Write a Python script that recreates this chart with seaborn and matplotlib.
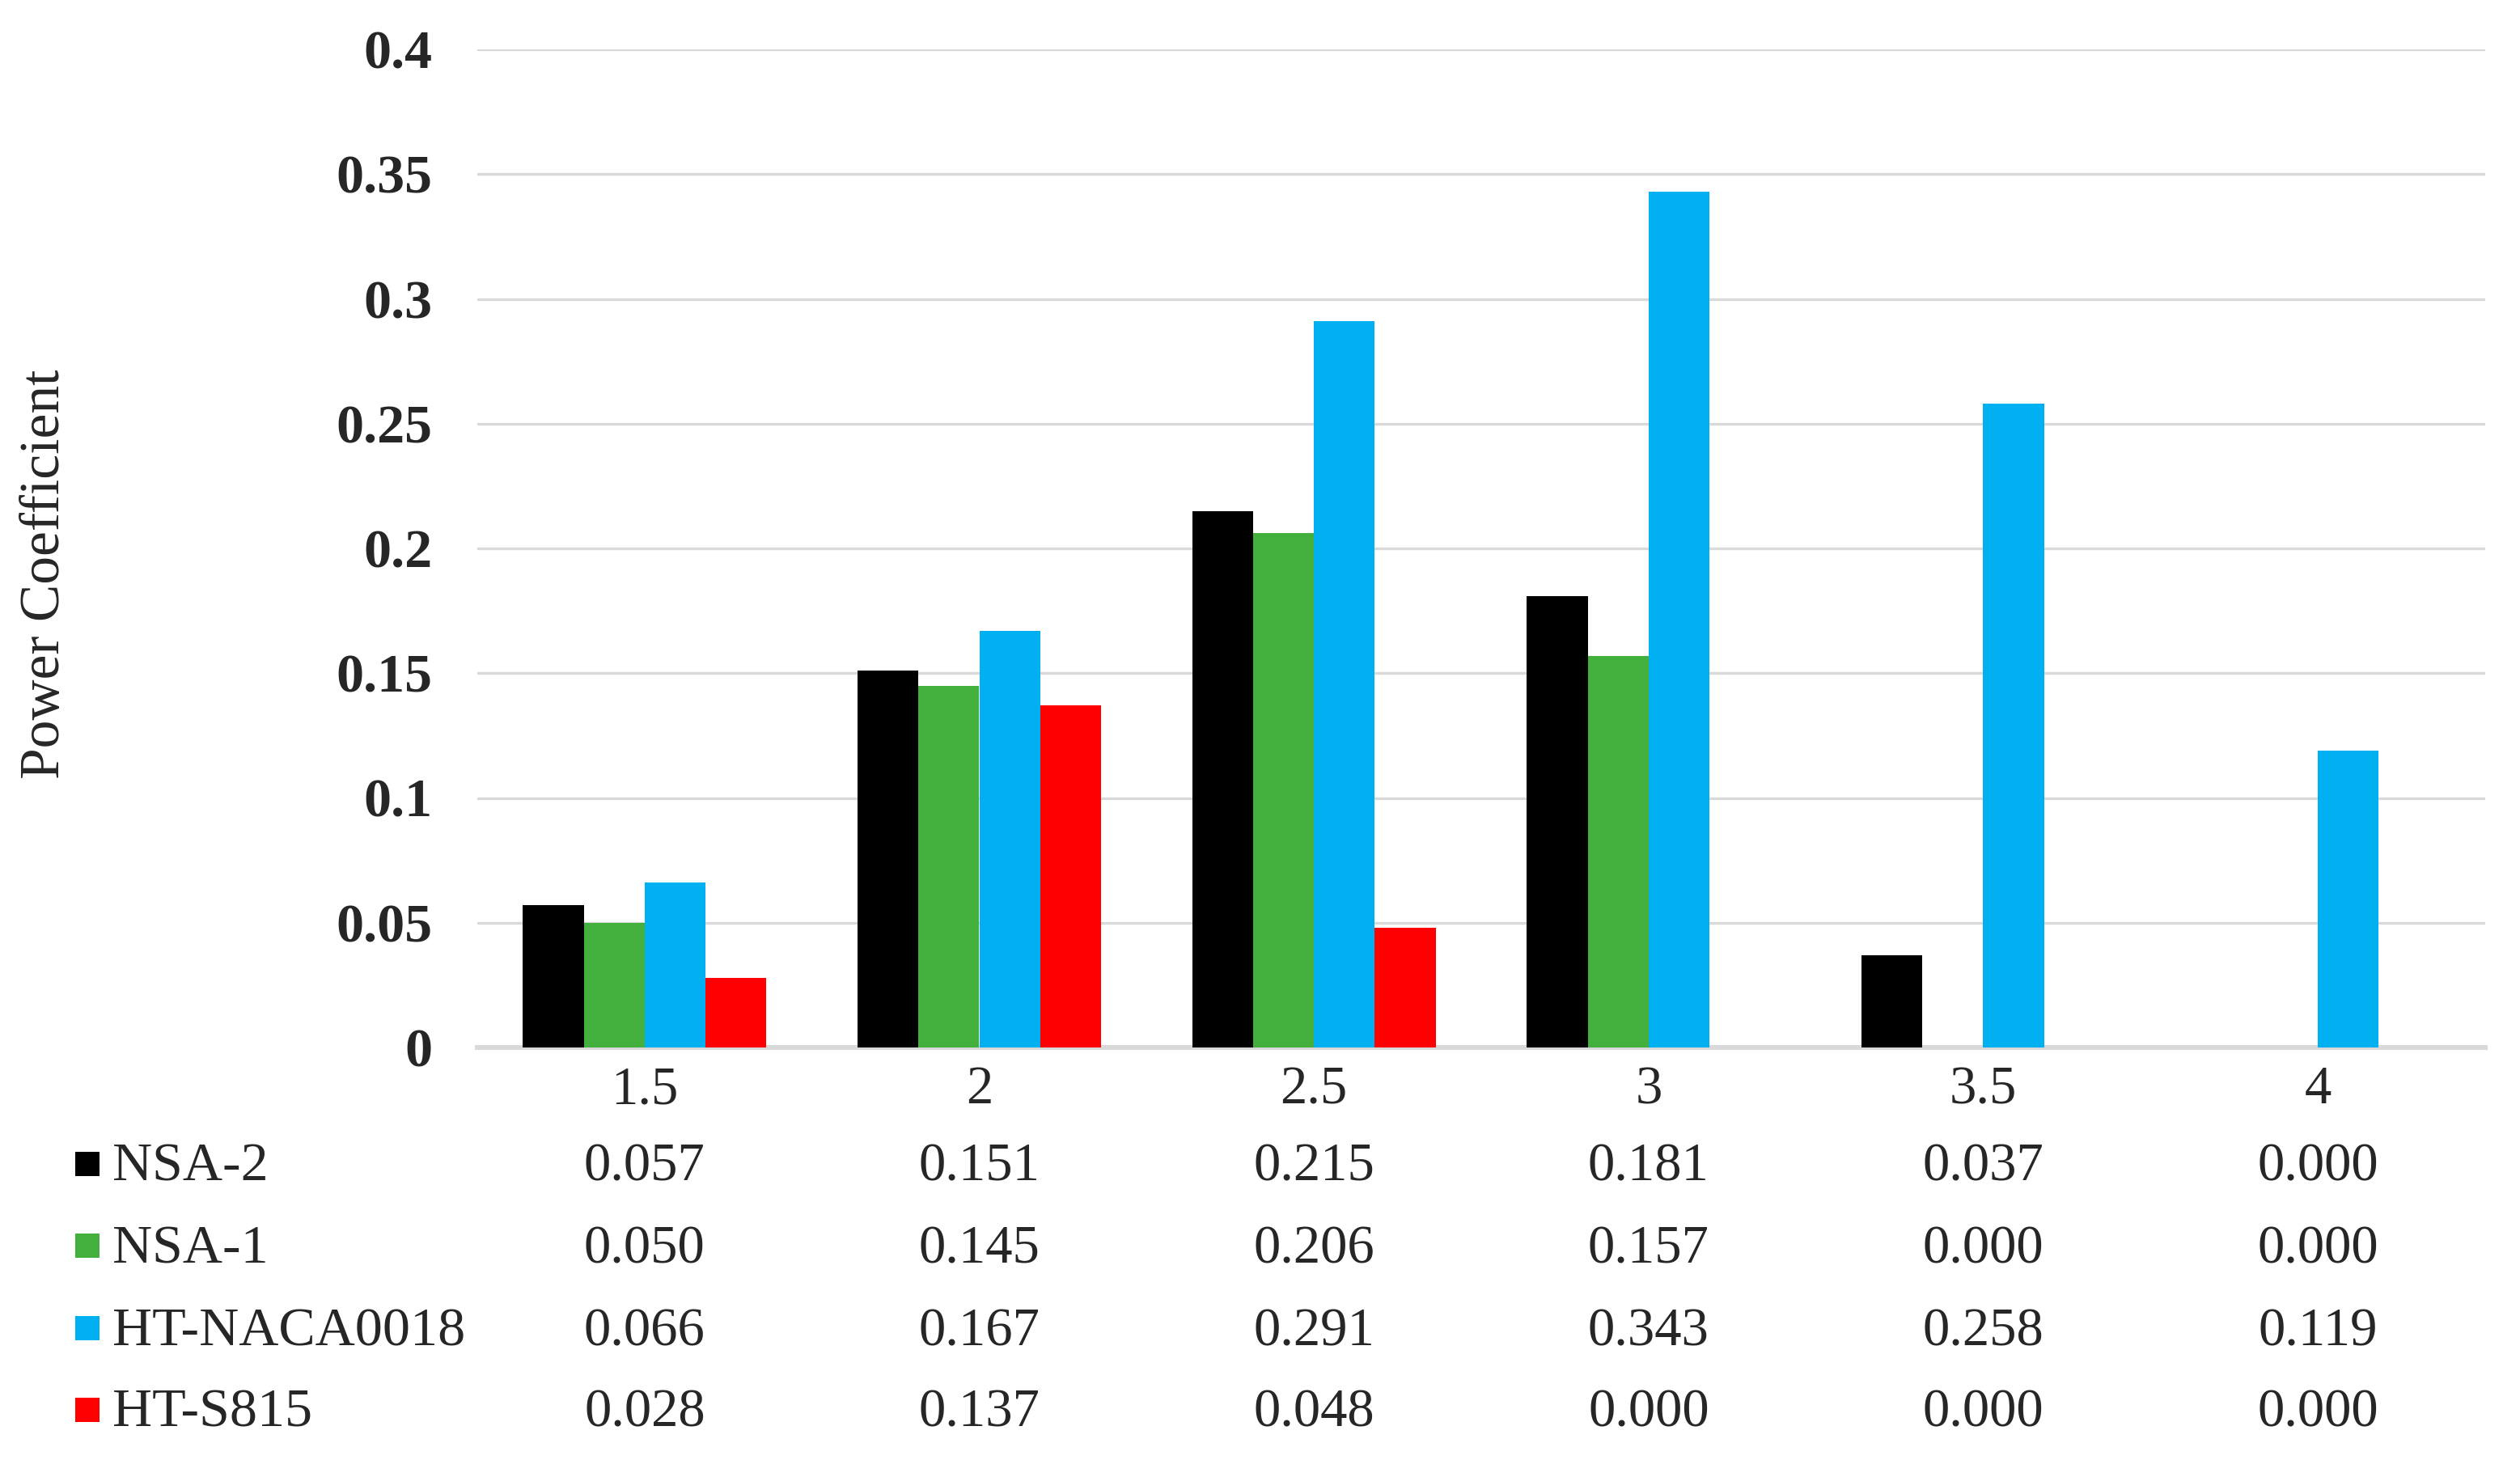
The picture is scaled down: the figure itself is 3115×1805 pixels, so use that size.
import matplotlib
matplotlib.use("Agg")
import matplotlib.pyplot as plt
from matplotlib.patches import Rectangle
import seaborn as sns
import pandas as pd

# ---- data ----
tsr_labels = ["1.5", "2", "2.5", "3", "3.5", "4"]
series_names = ["NSA-2", "NSA-1", "HT-NACA0018", "HT-S815"]
nsa2 = [0.057, 0.151, 0.215, 0.181, 0.037, 0.000]
nsa1 = [0.050, 0.145, 0.206, 0.157, 0.000, 0.000]
ht_naca0018 = [0.066, 0.167, 0.291, 0.343, 0.258, 0.119]
ht_s815 = [0.028, 0.137, 0.048, 0.000, 0.000, 0.000]
yticks = [0, 0.05, 0.1, 0.15, 0.2, 0.25, 0.3, 0.35, 0.4]
ytick_labels = ["0", "0.05", "0.1", "0.15", "0.2", "0.25", "0.3", "0.35", "0.4"]
colors = ["#000000", "#43AF3D", "#00B0F0", "#FF0000"]

values = [nsa2, nsa1, ht_naca0018, ht_s815]
rows = []
for name, vals in zip(series_names, values):
    for t, v in zip(tsr_labels, vals):
        rows.append({"TSR": t, "Cp": v, "Turbine": name})
df = pd.DataFrame(rows)

sns.set_theme(style="white")
plt.rcParams["font.family"] = ["Liberation Serif", "DejaVu Serif"]

W, H = 3115, 1805
DPI = 200
fig = plt.figure(figsize=(W / DPI, H / DPI), dpi=DPI)
ax_left, ax_right, ax_top, ax_bot = 590, 3072, 61, 1295
ax = fig.add_axes([ax_left / W, 1 - ax_bot / H, (ax_right - ax_left) / W, (ax_bot - ax_top) / H])

sns.barplot(data=df, x="TSR", y="Cp", hue="Turbine", order=tsr_labels,
            hue_order=series_names, palette=colors, width=0.727,
            saturation=1, linewidth=0, ax=ax, legend=False, errorbar=None)

FS = 24
ax.set_ylim(0, 0.4)
ax.set_xlim(-0.5, len(tsr_labels) - 0.5)
ax.set_yticks(yticks)
ax.set_yticklabels(ytick_labels, fontsize=24.5, fontweight="bold")
ax.tick_params(axis="y", length=0, pad=20)
ax.tick_params(axis="x", length=0, pad=8, labelsize=FS)
ax.set_xlabel("")
ax.set_ylabel("")
ax.set_axisbelow(True)
ax.yaxis.grid(True, color="#D9D9D9", linewidth=1.2)
ax.xaxis.grid(False)
for s in ["top", "right", "left"]:
    ax.spines[s].set_visible(False)
ax.spines["bottom"].set_color("#D9D9D9")
ax.spines["bottom"].set_linewidth(2.2)
ax.spines["bottom"].set_zorder(0.5)

# y label
fig.text(56 / W, 1 - 710 / H, "Power Coefficient", rotation=90,
         ha="center", va="center", fontsize=25)

# data table
baselines = [1460, 1561, 1663, 1764]
xtrans = ax.get_xaxis_transform()
for name, vals, col, base in zip(series_names, values, colors, baselines):
    yfrac = (ax_bot - base) / (ax_bot - ax_top)
    for i, v in enumerate(vals):
        ax.text(i, yfrac, f"{v:.3f}", transform=xtrans, ha="center",
                va="baseline", fontsize=FS, clip_on=False)
    fig.text(139 / W, 1 - base / H, name, ha="left", va="baseline", fontsize=FS + 0.5)
    fig.patches.append(Rectangle((93 / W, 1 - (base - 6) / H), 30 / W, 30 / H,
                                 transform=fig.transFigure, facecolor=col,
                                 edgecolor="none", figure=fig))

fig.savefig("out.png", dpi=DPI, facecolor="white")
